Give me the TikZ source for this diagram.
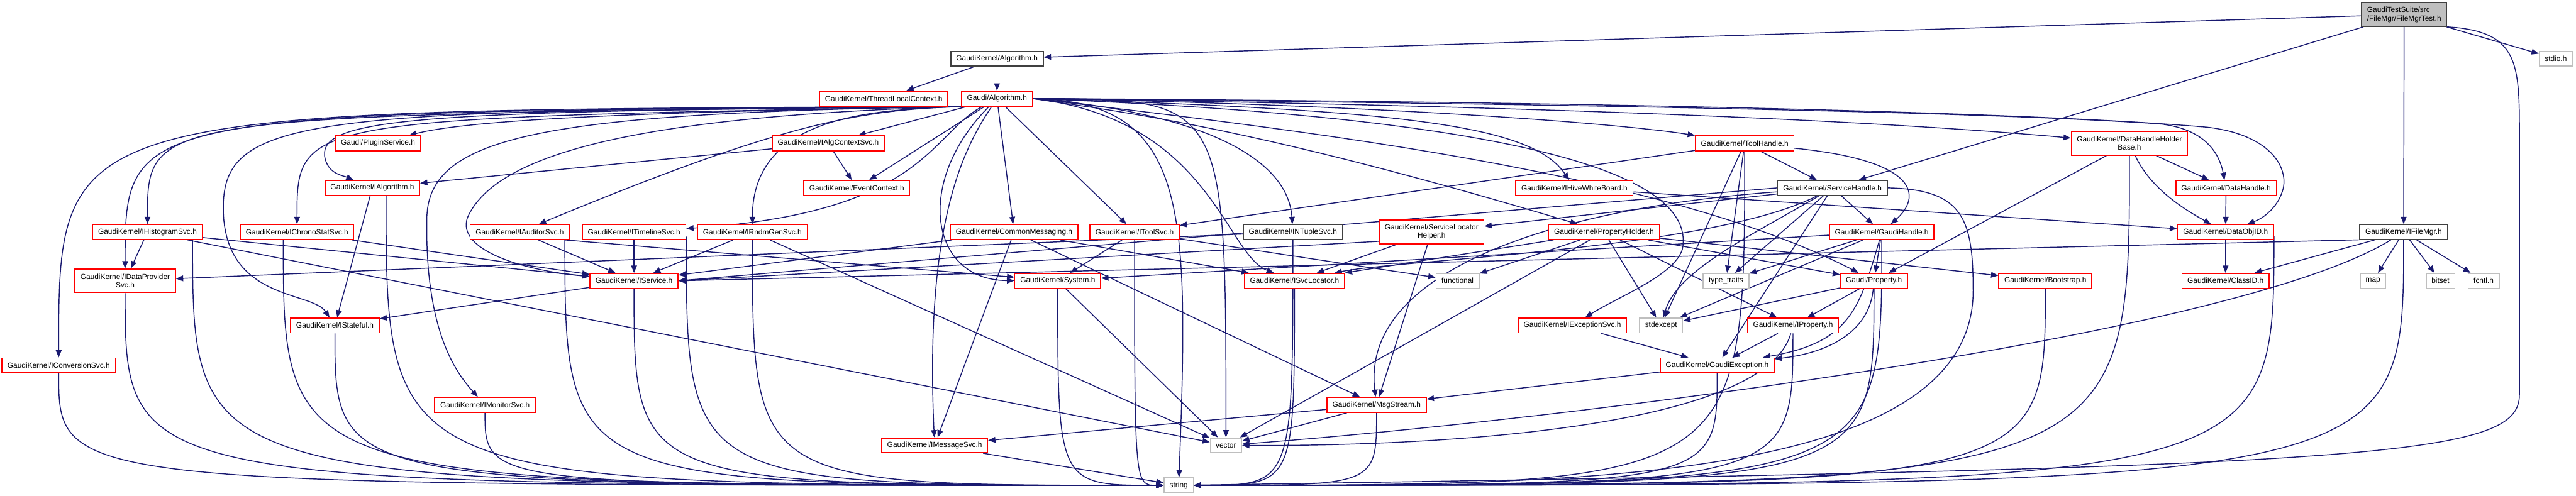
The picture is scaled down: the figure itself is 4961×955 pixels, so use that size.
\documentclass[tikz,border=0pt]{standalone}
\usepackage{fontspec}
\setmainfont{Liberation Sans}
\usepackage{xcolor}
\usepackage{tikz}
\usetikzlibrary{arrows.meta, backgrounds}
\definecolor{edgeblue}{HTML}{191970}
\definecolor{trunc}{HTML}{FF0000}
\definecolor{known}{HTML}{404040}
\definecolor{extern}{HTML}{BFBFBF}
\definecolor{topfill}{HTML}{BFBFBF}

\begin{document}
\begin{tikzpicture}[x=0.01cm, y=-0.01cm, >={Triangle[length=0.14cm,width=0.11cm]},
    hdr/.style={draw=trunc, fill=white, line width=0.6pt, inner xsep=3pt, inner ysep=1pt, minimum height=0.285cm, font=\fontsize{4.1}{4.7}\selectfont},
    full/.style={hdr, draw=known},
    std/.style={hdr, draw=extern},
    two/.style={minimum height=0.455cm, align=center},
    dep/.style={->, draw=edgeblue, line width=0.5pt},
    fan/.style={to path={.. controls (\tikztotarget |- \tikztostart) and (\tikztotarget |- \tikztostart) .. (\tikztotarget)}},
    drop/.style={to path={.. controls (\tikztostart |- \tikztotarget) .. (\tikztotarget)}}]
    \useasboundingbox (0,0) rectangle (4961,955);

    \node (test) [full, two, fill=topfill, align=left] at (4630,28) {GaudiTestSuite/src\\/FileMgr/FileMgrTest.h};
    \node (alg) [full] at (1920,113) {GaudiKernel/Algorithm.h};
    \node (stdio) [std] at (4922,113) {stdio.h};
    \node (tlc) [hdr] at (1702,190) {GaudiKernel/ThreadLocalContext.h};
    \node (galg) [hdr] at (1920,190) {Gaudi/Algorithm.h};
    \node (plugin) [hdr] at (728,276) {Gaudi/PluginService.h};
    \node (algctx) [hdr] at (1595,276) {GaudiKernel/IAlgContextSvc.h};
    \node (toolh) [hdr] at (3360,276) {GaudiKernel/ToolHandle.h};
    \node (dhhb) [hdr, two] at (4101,276) {GaudiKernel/DataHandleHolder\\Base.h};
    \node (ialg) [hdr] at (717,362) {GaudiKernel/IAlgorithm.h};
    \node (evctx) [hdr] at (1650,362) {GaudiKernel/EventContext.h};
    \node (hive) [hdr] at (3032,362) {GaudiKernel/IHiveWhiteBoard.h};
    \node (svch) [full] at (3529,362) {GaudiKernel/ServiceHandle.h};
    \node (dh) [hdr] at (4287,362) {GaudiKernel/DataHandle.h};
    \node (ihist) [hdr] at (284,447) {GaudiKernel/IHistogramSvc.h};
    \node (ichrono) [hdr] at (572,447) {GaudiKernel/IChronoStatSvc.h};
    \node (iaud) [hdr] at (1001,447) {GaudiKernel/IAuditorSvc.h};
    \node (itime) [hdr] at (1221,447) {GaudiKernel/ITimelineSvc.h};
    \node (irndm) [hdr] at (1449,447) {GaudiKernel/IRndmGenSvc.h};
    \node (cmsg) [hdr] at (1953,447) {GaudiKernel/CommonMessaging.h};
    \node (itool) [hdr] at (2185,447) {GaudiKernel/IToolSvc.h};
    \node (intuple) [full] at (2490,447) {GaudiKernel/INTupleSvc.h};
    \node (slh) [hdr, two] at (2757,447) {GaudiKernel/ServiceLocator\\Helper.h};
    \node (ph) [hdr] at (3089,447) {GaudiKernel/PropertyHolder.h};
    \node (gh) [hdr] at (3624,447) {GaudiKernel/GaudiHandle.h};
    \node (objid) [hdr] at (4286,447) {GaudiKernel/DataObjID.h};
    \node (ifm) [full] at (4629,447) {GaudiKernel/IFileMgr.h};
    \node (idp) [hdr, two] at (241,541) {GaudiKernel/IDataProvider\\Svc.h};
    \node (isvc) [hdr] at (1221,541) {GaudiKernel/IService.h};
    \node (sys) [hdr] at (2037,541) {GaudiKernel/System.h};
    \node (isl) [hdr] at (2493,541) {GaudiKernel/ISvcLocator.h};
    \node (func) [std] at (2807,541) {functional};
    \node (tt) [std] at (3324,541) {type\_traits};
    \node (prop) [hdr] at (3609,541) {Gaudi/Property.h};
    \node (boot) [hdr] at (3939,541) {GaudiKernel/Bootstrap.h};
    \node (clsid) [hdr] at (4286,541) {GaudiKernel/ClassID.h};
    \node (map) [std] at (4570,541) {map};
    \node (bitset) [std] at (4700,541) {bitset};
    \node (fcntl) [std] at (4783,541) {fcntl.h};
    \node (istate) [hdr] at (645,627) {GaudiKernel/IStateful.h};
    \node (iexc) [hdr] at (3028,627) {GaudiKernel/IExceptionSvc.h};
    \node (stdexc) [std] at (3199,627) {stdexcept};
    \node (iprop) [hdr] at (3453,627) {GaudiKernel/IProperty.h};
    \node (iconv) [hdr] at (113,704) {GaudiKernel/IConversionSvc.h};
    \node (gexc) [hdr] at (3307,704) {GaudiKernel/GaudiException.h};
    \node (imon) [hdr] at (934,780) {GaudiKernel/IMonitorSvc.h};
    \node (msg) [hdr] at (2651,780) {GaudiKernel/MsgStream.h};
    \node (imsg) [hdr] at (1800,858) {GaudiKernel/IMessageSvc.h};
    \node (vector) [std] at (2361,858) {vector};
    \node (string) [std] at (2270,935) {string};

    \begin{pgfonlayer}{background}
    \draw [dep] (test) -- (alg);
    \draw [dep] (test) -- (svch);
    \draw [dep] (test) -- (ifm);
    \draw [dep] (test) -- (stdio);
    \draw [dep] (test.south east) .. controls (4850,60) and (4852,120) .. (4852,260) -- (4852,760) .. controls (4852,880) and (4600,900) .. (string);
    \draw [dep] (alg) -- (tlc);
    \draw [dep] (alg) -- (galg);

    \draw [dep] (galg.south west) .. controls (113,212) and (113,212) .. (iconv);
    \draw [dep] (galg.south west) .. controls (241,216) and (241,216) .. (idp);
    \draw [dep] (galg.south west) .. controls (284,222) and (284,222) .. (ihist);
    \draw [dep] (galg.south west) .. controls (572,228) and (572,228) .. (ichrono);
    \draw [dep] (galg.south west) .. controls (600,212) and (430,222) .. (430,400) .. controls (430,580) and (600,560) .. (istate);
    \draw [dep] (galg.south west) .. controls (820,214) and (618,226) .. (625,300) .. controls (630,335) and (660,338) .. (ialg);
    \draw [dep] (galg.south west) .. controls (1200,216) and (900,232) .. (plugin);
    \draw [dep] (galg.south west) .. controls (1050,218) and (825,260) .. (822,420) .. controls (818,640) and (880,720) .. (imon);
    \draw [dep] (galg.south west) .. controls (1300,222) and (960,280) .. (900,420) .. controls (880,480) and (1000,520) .. (isvc);
    \draw [dep] (galg.south west) .. controls (1650,212) and (1500,240) .. (iaud);
    \draw [dep] (galg) .. controls (1790,260) and (1780,410) .. (itime);
    \draw [dep] (galg.south west) .. controls (1700,212) and (1449,215) .. (irndm);
    \draw [dep] (galg) -- (algctx);
    \draw [dep] (galg) -- (evctx);
    \draw [dep] (galg) .. controls (1860,280) and (1780,420) .. (imsg);
    \draw [dep] (galg) .. controls (1760,350) and (1790,540) .. (sys);
    \draw [dep] (galg) -- (cmsg);
    \draw [dep] (galg) -- (itool);
    \draw [dep] (galg.east) to[fan] (vector);
    \draw [dep] (galg.east) .. controls (2290,196) and (2290,400) .. (string);
    \draw [dep] (galg.east) .. controls (2300,215) and (2480,300) .. (intuple);
    \draw [dep] (galg.east) .. controls (2330,230) and (2360,490) .. (isl);
    \draw [dep] (galg.east) .. controls (2700,212) and (2950,240) .. (hive);
    \draw [dep] (galg.east) .. controls (2600,200) and (3100,235) .. (toolh);
    \draw [dep] (galg.east) .. controls (2150,215) and (2400,240) .. (ph);
    \draw [dep] (galg.east) .. controls (2700,200) and (3500,222) .. (dhhb);
    \draw [dep] (galg.east) .. controls (3000,200) and (3800,215) .. (4150,238) .. controls (4250,245) and (4275,300) .. (dh);
    \draw [dep] (galg.east) .. controls (3000,195) and (3900,215) .. (4250,245) .. controls (4380,260) and (4410,330) .. (4395,370) .. controls (4385,400) and (4360,420) .. (objid);
    \draw [dep] (galg.east) .. controls (2500,250) and (3200,330) .. (prop);
    \draw [dep] (galg.east) .. controls (2900,225) and (3270,330) .. (3240,480) .. controls (3225,530) and (3120,570) .. (iexc);

    \draw [dep] (algctx) -- (ialg);
    \draw [dep] (algctx) -- (evctx);
    \draw [dep] (ihist) -- (idp);
    \draw [dep] (ihist) -- (isvc);
    \draw [dep] (ihist) -- (vector);
    \draw [dep] (ihist.-10) to[drop] (string);
    \draw [dep] (ichrono) -- (isvc);
    \draw [dep] (ichrono.-150) to[drop] (string);
    \draw [dep] (ialg) -- (istate);
    \draw [dep] (ialg.-30) to[drop] (string);
    \draw [dep] (iaud) -- (isvc);
    \draw [dep] (iaud.-10) -- (sys);
    \draw [dep] (iaud.-10) to[drop] (string);
    \draw [dep] (itime) -- (isvc);
    \draw [dep] (itime.-5) to[drop] (string);
    \draw [dep] (irndm) -- (isvc);
    \draw [dep] (irndm) -- (vector);
    \draw [dep] (irndm) to[drop] (string);
    \draw [dep] (cmsg) -- (isvc);
    \draw [dep] (cmsg) -- (imsg);
    \draw [dep] (cmsg) -- (msg);
    \draw [dep] (cmsg) -- (isl);
    \draw [dep] (itool) -- (sys);
    \draw [dep] (itool) -- (func);
    \draw [dep] (itool) to[drop] (string);
    \draw [dep] (intuple) -- (idp);
    \draw [dep] (intuple) to[drop] (string);
    \draw [dep] (slh.190) -- (isvc.east);
    \draw [dep] (slh) -- (isl);
    \draw [dep] (slh) -- (msg);
    \draw [dep] (hive) -- (objid);

    \draw [dep] (toolh) -- (svch);
    \draw [dep] (toolh) .. controls (3700,310) and (3700,380) .. (gh);
    \draw [dep] (toolh) -- (itool);
    \draw [dep] (toolh) -- (stdexc);
    \draw [dep] (toolh) -- (tt);
    \draw [dep] (toolh) to[drop] (string);
    \draw [dep] (svch) -- (gh);
    \draw [dep] (svch.west) -- (isvc.east);
    \draw [dep] (svch) .. controls (3300,480) and (2700,500) .. (isl);
    \draw [dep] (svch) .. controls (3000,400) and (2620,520) .. (msg);
    \draw [dep] (svch) -- (slh);
    \draw [dep] (svch) .. controls (3380,450) and (3230,520) .. (stdexc);
    \draw [dep] (svch) -- (tt);
    \draw [dep] (svch) -- (gexc);
    \draw [dep] (svch.east) .. controls (3780,365) and (3800,420) .. (3800,560) .. controls (3800,935) and (3000,935) .. (string);
    \draw [dep] (gh) -- (sys);
    \draw [dep] (gh) -- (tt);
    \draw [dep] (gh) -- (stdexc);
    \draw [dep] (gh) -- (prop);
    \draw [dep] (gh) .. controls (3580,600) and (3560,660) .. (gexc);
    \draw [dep] (gh) to[drop] (string);
    \draw [dep] (ph) -- (prop);
    \draw [dep] (ph) -- (iprop);
    \draw [dep] (ph) -- (boot);
    \draw [dep] (ph) -- (isl);
    \draw [dep] (ph) -- (func);
    \draw [dep] (ph) -- (stdexc);
    \draw [dep] (ph) -- (vector);
    \draw [dep] (prop) -- (iprop);
    \draw [dep] (prop) -- (stdexc);
    \draw [dep] (prop) .. controls (3600,640) and (3520,680) .. (gexc);
    \draw [dep] (prop) to[drop] (string);
    \draw [dep] (iprop) -- (gexc);
    \draw [dep] (iprop) to[drop] (string);
    \draw [dep] (iprop) .. controls (3400,820) and (2800,860) .. (vector);
    \draw [dep] (dhhb) -- (dh);
    \draw [dep] (dhhb) .. controls (4140,360) and (4200,400) .. (objid);
    \draw [dep] (dhhb) -- (prop);
    \draw [dep] (dhhb) to[drop] (string);
    \draw [dep] (dh) -- (objid);
    \draw [dep] (objid) -- (clsid);
    \draw [dep] (objid.-5) to[drop] (string);
    \draw [dep] (ifm.190) -- (isvc.east);
    \draw [dep] (ifm) -- (clsid);
    \draw [dep] (ifm) -- (map);
    \draw [dep] (ifm) -- (bitset);
    \draw [dep] (ifm) -- (fcntl);
    \draw [dep] (ifm) to[drop] (string);
    \draw [dep] (ifm) .. controls (4300,650) and (3000,810) .. (vector);
    \draw [dep] (boot) to[drop] (string);

    \draw [dep] (iexc) -- (gexc);
    \draw [dep] (gexc) -- (msg);
    \draw [dep] (gexc) to[drop] (string);
    \draw [dep] (msg) -- (imsg);
    \draw [dep] (msg) -- (vector);
    \draw [dep] (msg) to[drop] (string);
    \draw [dep] (imsg) -- (string);
    \draw [dep] (sys) to[drop] (string);
    \draw [dep] (sys) -- (vector);
    \draw [dep] (isl) to[drop] (string);
    \draw [dep] (isvc) -- (istate);
    \draw [dep] (isvc) to[drop] (string);
    \draw [dep] (idp) to[drop] (string);
    \draw [dep] (istate) to[drop] (string);
    \draw [dep] (iconv) to[drop] (string);
    \draw [dep] (imon) to[drop] (string);
    \end{pgfonlayer}
\end{tikzpicture}
\end{document}
